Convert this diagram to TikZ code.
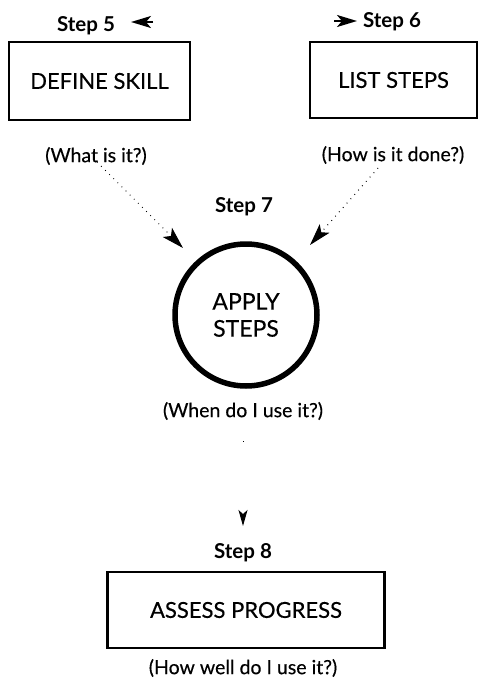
\documentclass[tikz,border=0pt]{standalone}
\usepackage{fontspec}
\setmainfont{Lato}
\newfontfamily\medfont{Lato}[FakeBold=0.35]
\usetikzlibrary{arrows.meta}
\begin{document}
\begin{tikzpicture}[x=1pt,y=-1pt,
  stepbox/.style={draw,line width=2.6pt,inner sep=0pt,font=\medfont\fontsize{22}{26}\selectfont},
  steplabel/.style={font=\bfseries\fontsize{20.5}{24}\selectfont},
  question/.style={font=\medfont\fontsize{19.5}{23}\selectfont},
  flow/.style={line width=1pt,dash pattern=on 0.8pt off 5pt,-{Stealth[length=22pt,width=13pt,inset=5pt]}},
  pointer/.style={-{Stealth[length=20pt,width=12pt,inset=5pt]},line width=2pt}]
\useasboundingbox (0,0) rectangle (486,680);
% top left: define the skill
\node[stepbox,minimum width=181pt,minimum height=78pt] (define) at (99.5,81) {DEFINE SKILL};
\node[steplabel] (s5) at (86,26) {Step 5};
\coordinate (s5a) at (153,22);
\coordinate (s5b) at (131,22);
\draw[pointer] (s5a) -- (s5b);
\node[question] (q5) at (96,156) {(What is it?)};
% top right: list the steps
\node[stepbox,minimum width=167pt,minimum height=76pt] (list) at (393.5,80) {LIST STEPS};
\node[steplabel] (s6) at (392,22) {Step 6};
\coordinate (s6a) at (334,21);
\coordinate (s6b) at (357,21);
\draw[pointer] (s6a) -- (s6b);
\node[question] (q6) at (393,155) {(How is it done?)};
% centre: apply the steps
\node[steplabel] (s7) at (244,207) {Step 7};
\node[circle,draw,line width=5.5pt,minimum size=142pt,inner sep=0pt,
      align=center,font=\medfont\fontsize{23}{27}\selectfont] (apply) at (246,315) {APPLY\\STEPS};
\node[question] (q7) at (243,411) {(When do I use it?)};
\coordinate (fromL) at (97,162);
\coordinate (toL) at (183,248);
\coordinate (fromR) at (378,168);
\coordinate (toR) at (310,245);
\draw[flow] (fromL) -- (toL);
\draw[flow] (fromR) -- (toR);
% bottom: assess progress
\node[steplabel] (s8) at (243,553) {Step 8};
\node[stepbox,minimum width=277pt,minimum height=76pt] (assess) at (246,610) {ASSESS PROGRESS};
\node[question] (q8) at (243,668) {(How well do I use it?)};
\coordinate (down) at (243,441);
\coordinate (downtip) at (243,526);
\draw[line width=1pt,dash pattern=on 1pt off 90pt,-{Stealth[length=16pt,width=9pt,inset=4pt]}] (down) -- (downtip);
\end{tikzpicture}
\end{document}
